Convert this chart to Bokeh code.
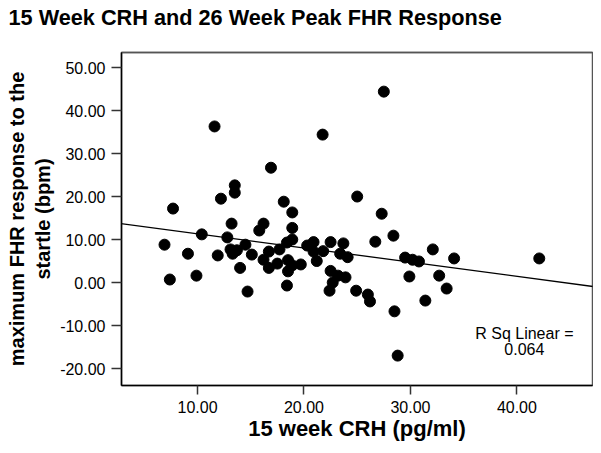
from bokeh.plotting import figure
from bokeh.models import (Range1d, FixedTicker, NumeralTickFormatter, Slope,
                          Label, Title, LinearAxis)
from bokeh.embed import file_html
from bokeh.resources import INLINE

# 15 week CRH (pg/ml)
crh_15wk = [11.6, 21.75, 27.5, 16.9, 13.5, 13.5, 12.2, 7.7, 18.1, 18.9,
            25.0, 27.3, 13.2, 16.2, 15.8, 18.9, 10.4, 12.8, 6.9, 9.1,
            11.9, 13.1, 13.7, 13.3, 14.5, 15.1, 14.0, 9.9, 7.4, 14.7,
            18.9, 18.4, 16.7, 17.7, 16.2, 16.7, 17.5, 18.5, 18.5, 18.9,
            19.7, 18.4, 20.3, 20.9, 20.9, 21.2, 21.8, 22.5, 23.7, 23.4,
            24.1, 22.5, 23.2, 23.9, 22.7, 22.4, 28.4, 26.7, 32.1, 34.1,
            29.5, 30.2, 30.8, 29.9, 32.7, 33.4, 24.9, 26.0, 26.2, 31.4,
            28.5, 42.1, 28.8]
# maximum FHR response to the startle (bpm)
fhr_peak = [36.3, 34.4, 44.4, 26.7, 22.6, 20.9, 19.5, 17.2, 18.8, 16.3,
            20.0, 16.0, 13.7, 13.7, 12.1, 12.7, 11.2, 10.5, 8.8, 6.7,
            6.3, 7.7, 7.5, 6.7, 8.8, 6.5, 3.4, 1.6, 0.7, -2.1,
            10.0, 9.3, 7.2, 7.7, 5.3, 3.4, 4.4, 5.2, 2.6, 4.0,
            4.2, -0.7, 8.6, 9.4, 7.2, 5.0, 7.3, 9.4, 9.1, 6.7,
            5.9, 2.7, 1.6, 1.2, 0.0, -1.9, 10.9, 9.5, 7.7, 5.6,
            5.8, 5.3, 4.9, 1.4, 1.6, -1.4, -1.9, -2.8, -4.4, -4.2,
            -6.7, 5.6, -17.0]

fit_intercept = 14.64
fit_slope = -0.33
r_sq_text = "R Sq Linear =\n0.064"
title_text = "15 Week CRH and 26 Week Peak FHR Response"

x_ticks = [10, 20, 30, 40]
y_ticks = [-20, -10, 0, 10, 20, 30, 40, 50]

FONT = "Liberation Sans"

p = figure(width=593, height=445, output_backend="svg", toolbar_location=None,
           x_range=Range1d(2.86, 47.1), y_range=Range1d(-23.95, 53.5),
           min_border_left=121, min_border_right=1, min_border_top=52,
           min_border_bottom=60)

xa = p.below[0]
ya = p.left[0]

# top frame edge as a bare axis line (nearest the frame); its invisible
# ticks reserve the space between the frame and the title
top_axis = LinearAxis(ticker=FixedTicker(ticks=x_ticks), axis_line_color="#555555",
                      axis_line_width=1.5, major_tick_line_color=None,
                      minor_tick_line_color=None, major_tick_in=0,
                      major_tick_out=22, major_label_standoff=0,
                      major_label_text_font_size="1px",
                      major_label_text_color=None,
                      axis_label_standoff=0)
p.add_layout(top_axis, "above")
p.add_layout(Title(text=title_text, text_font=FONT, text_font_size="21.7px",
                   text_font_style="bold", text_color="black", align="left",
                   offset=-113, standoff=2), "above")

p.xgrid.visible = False
p.ygrid.visible = False
p.outline_line_color = "#555555"
p.outline_line_width = 1.5
p.background_fill_color = "white"
p.border_fill_color = "white"

xa.ticker = FixedTicker(ticks=x_ticks)
ya.ticker = FixedTicker(ticks=y_ticks)
xa.formatter = NumeralTickFormatter(format="0.00")
ya.formatter = NumeralTickFormatter(format="0.00")
for ax in (xa, ya):
    ax.minor_tick_line_color = None
    ax.major_tick_in = 0
    ax.axis_line_color = "black"
    ax.axis_line_width = 1.5
    ax.major_tick_line_color = "#333333"
    ax.major_tick_line_width = 1.5
    ax.major_label_text_font = FONT
    ax.major_label_text_font_size = "16px"
    ax.major_label_text_color = "black"
    ax.axis_label_text_font = FONT
    ax.axis_label_text_font_style = "bold"
    ax.axis_label_text_color = "black"

xa.major_tick_out = 9
ya.major_tick_out = 10
xa.major_label_standoff = 6
ya.major_label_standoff = 6
xa.axis_label = "15 week CRH (pg/ml)"
xa.axis_label_text_font_size = "22px"
xa.axis_label_standoff = 0
ya.axis_label = "maximum FHR response to the\nstartle (bpm)"
ya.axis_label_text_font_size = "20px"
ya.axis_label_standoff = 3

p.scatter(crh_15wk, fhr_peak, size=11, fill_color="black", line_color="black")
p.add_layout(Slope(gradient=fit_slope, y_intercept=fit_intercept,
                   line_color="black", line_width=1.3))

p.add_layout(Label(x=40.7, y=-13.75, text=r_sq_text, text_align="center",
                   text_baseline="middle", text_font=FONT,
                   text_font_size="16px", text_color="black",
                   text_line_height=0.95))

open("out.html", "w").write(file_html(p, INLINE))
